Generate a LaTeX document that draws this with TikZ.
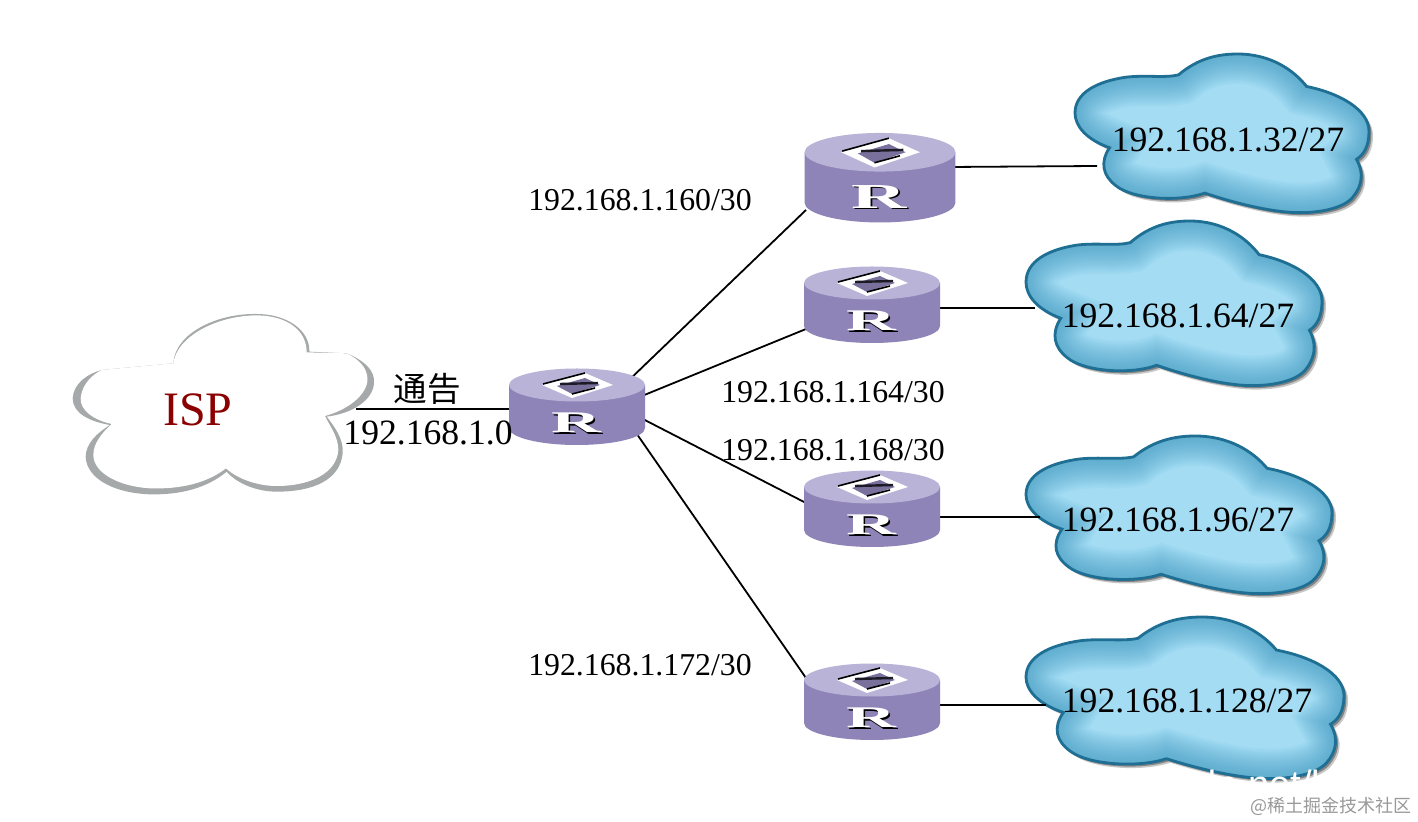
\documentclass[tikz,border=0pt]{standalone}
\usepackage{fontspec}
\setmainfont{Liberation Serif}
\newfontfamily\cjk{Noto Sans CJK SC}
\newfontfamily\wmsans{Liberation Sans}
\definecolor{cloudlight}{HTML}{A3DCF3}
\definecolor{cloudglow}{HTML}{2F8FBA}
\definecolor{cloudedge}{HTML}{1F6F94}
\definecolor{rtop}{HTML}{B9B3D7}
\definecolor{rside}{HTML}{8E84B8}
\definecolor{ispgray}{HTML}{A6A9A9}
\definecolor{ispred}{HTML}{8B0000}
\tikzset{
  link/.style={draw=black,line width=0.9pt},
  anchorbox/.style={inner sep=0pt,outer sep=0pt},
  lbl/.style={inner sep=0pt,font=\fontsize{15.9pt}{18pt}\selectfont,text=black},
  cloudlbl/.style={inner sep=0pt,font=\fontsize{17.8pt}{20pt}\selectfont,text=black},
}
\def\cloudpath{(315,63) .. controls (375,13) and (435,0) .. (495,0)
 .. controls (595,0) and (665,48) .. (705,98)
 .. controls (805,118) and (895,168) .. (895,233)
 .. controls (895,278) and (880,303) .. (857,318)
 .. controls (880,358) and (875,398) .. (845,433)
 .. controls (815,468) and (735,483) .. (655,478)
 .. controls (585,473) and (495,453) .. (395,420)
 .. controls (315,448) and (175,438) .. (125,398)
 .. controls (85,368) and (75,328) .. (105,283)
 .. controls (35,258) and (0,218) .. (0,178)
 .. controls (0,118) and (65,83) .. (155,70)
 .. controls (215,63) and (275,73) .. (315,63) -- cycle}
\newcommand{\bluecloud}[4]{%
  \begin{scope}[shift={(#1+4,#2+4)},xscale=#3/895,yscale=#4/483]
    \fill[black!70,opacity=.3] \cloudpath;
  \end{scope}
  \begin{scope}[shift={(#1+2.5,#2+2.5)},xscale=#3/895,yscale=#4/483]
    \fill[black!70,opacity=.55] \cloudpath;
  \end{scope}
  \begin{scope}[shift={(#1,#2)},xscale=#3/895,yscale=#4/483]
    \begin{scope}
      \clip \cloudpath;
      \fill[cloudlight] \cloudpath;
      \foreach \w in {30,28,26,24,22,20,18,16,14,12,10,8,6,4,2}
        \draw[cloudglow,opacity=.05,line width=\w pt] \cloudpath;
    \end{scope}
    \draw[cloudedge,line width=1.4pt] \cloudpath;
  \end{scope}}
\newcommand{\routerart}[5]{%
  \begin{scope}[shift={(#2,#3)},xscale=#4,yscale=#5]
    \fill[rside] (-68,-22) -- (-68,21) .. controls (-68,30.5) and (-37.5,38) .. (0,38) .. controls (37.5,38) and (68,30.5) .. (68,21) -- (68,-22) -- cycle;
    \fill[rtop] (0,-22) ellipse[x radius=68,y radius=16.5];
    \fill[white] (-35,-22) -- (8,-34) -- (36,-22) -- (-5,-9) -- cycle;
    \fill[rside!85!black] (-20,-21) -- (8,-29) -- (23,-22) -- (-5,-13) -- cycle;
    \draw[black!80!rside,line width=1.2pt] (-17,-23) -- (21,-24);
    \draw[black,line width=.8pt] (-34,-23) -- (8,-34);
    \draw[black,line width=.8pt] (-5,-13) -- (18,-19);
    \node[inner sep=0pt,text=black,xscale=2.3*#4,yscale=#5,font=\fontsize{15pt}{15pt}\selectfont\bfseries] (#1S) at (0.5,17.5) {R};
    \node[inner sep=0pt,text=white,xscale=2.3*#4,yscale=#5,font=\fontsize{15pt}{15pt}\selectfont\bfseries] (#1R) at (-1,16) {R};
  \end{scope}}
\begin{document}
\begin{tikzpicture}[x=0.5pt,y=-0.5pt]
\useasboundingbox (0,0) rectangle (1418,822);
\fill[white] (0,0) rectangle (1418,822);

% ISP cloud
\begin{scope}[shift={(60,300)},scale=1/3]
  \fill[ispgray] (340,190) .. controls (345,100) and (470,40) .. (590,42)
    .. controls (680,42) and (750,90) .. (748,155) -- (860,160)
    .. controls (920,185) and (945,215) .. (942,250)
    .. controls (938,300) and (880,340) .. (800,350)
    .. controls (840,400) and (850,430) .. (848,460)
    .. controls (840,540) and (760,575) .. (650,575)
    .. controls (590,575) and (530,550) .. (500,515)
    .. controls (440,565) and (360,585) .. (270,583)
    .. controls (170,580) and (80,540) .. (77,470)
    .. controls (78,430) and (110,400) .. (150,375)
    .. controls (90,365) and (38,340) .. (38,295)
    .. controls (40,250) and (85,220) .. (125,210) -- cycle;
  \fill[white] (340,190) .. controls (350,110) and (470,47) .. (590,46)
    .. controls (680,47) and (740,90) .. (740,157) -- (860,160)
    .. controls (910,185) and (925,215) .. (922,245)
    .. controls (915,290) and (860,330) .. (795,348)
    .. controls (810,380) and (835,410) .. (835,450)
    .. controls (830,520) and (750,558) .. (650,558)
    .. controls (590,558) and (530,535) .. (498,505)
    .. controls (440,550) and (360,568) .. (270,565)
    .. controls (180,560) and (100,520) .. (100,465)
    .. controls (100,430) and (125,400) .. (155,372)
    .. controls (100,360) and (60,330) .. (62,295)
    .. controls (65,255) and (95,225) .. (125,210) -- cycle;
\end{scope}

% Blue clouds
\bluecloud{1075}{54}{294}{160}
\bluecloud{1026}{221}{296}{166}
\bluecloud{1026}{436}{306}{159}
\bluecloud{1026}{617}{318}{163}

% Anchor nodes
\node[anchorbox,minimum width=68pt,minimum height=38pt] (r0) at (577,407) {};
\node[anchorbox,minimum width=75.5pt,minimum height=44.5pt] (r1) at (880,178) {};
\node[anchorbox,minimum width=68pt,minimum height=38pt] (r2) at (872,305) {};
\node[anchorbox,minimum width=68pt,minimum height=38pt] (r3) at (872,509) {};
\node[anchorbox,minimum width=68pt,minimum height=38pt] (r4) at (872,702) {};
\node[inner sep=0pt,font=\fontsize{24pt}{26pt}\selectfont,text=ispred] (isp) at (198,410) {ISP};
\node[cloudlbl] (c1) at (1228,140) {192.168.1.32/27};
\node[cloudlbl] (c2) at (1178,316) {192.168.1.64/27};
\node[cloudlbl] (c3) at (1178,520) {192.168.1.96/27};
\node[cloudlbl] (c4) at (1187,701) {192.168.1.128/27};

% Connectors
\draw[link] ([shift={(158,-1)}]isp.center) -- ([shift={(-60,2)}]r0.center);
\draw[link] ([shift={(50,-25)}]r0.center) -- ([shift={(-74,32)}]r1.center);
\draw[link] ([shift={(60,-9)}]r0.center) -- ([shift={(-66,24)}]r2.center);
\draw[link] ([shift={(60,9)}]r0.center) -- ([shift={(-66,-6)}]r3.center);
\draw[link] ([shift={(55,20)}]r0.center) -- ([shift={(-66,-24)}]r4.center);
\draw[link] ([shift={(70,-11)}]r1.center) -- ([shift={(-131,26)}]c1.center);
\draw[link] ([shift={(61,3)}]r2.center) -- ([shift={(-143,-8)}]c2.center);
\draw[link] ([shift={(60,8)}]r3.center) -- ([shift={(-138,-3)}]c3.center);
\draw[link] ([shift={(61,3)}]r4.center) -- ([shift={(-141,4)}]c4.center);

% Routers
\routerart{r0}{577}{407}{1}{1}
\routerart{r1}{880}{178}{1.11}{1.17}
\routerart{r2}{872}{305}{1}{1}
\routerart{r3}{872}{509}{1}{1}
\routerart{r4}{872}{702}{1}{1}

% Labels
\node[lbl] (l160) at (640,200) {192.168.1.160/30};
\node[lbl] (l164) at (833,392) {192.168.1.164/30};
\node[lbl] (l168) at (833,450) {192.168.1.168/30};
\node[lbl] (l172) at (640,665) {192.168.1.172/30};
\node[inner sep=0pt,font=\cjk\fontsize{16.8pt}{18pt}\selectfont] (adv) at (427,389) {通告};
\node[cloudlbl] (net) at (428,433) {192.168.1.0};

% Watermarks
\node[inner sep=0pt,text=white,font=\wmsans\fontsize{19pt}{20pt}\selectfont,anchor=west] (wm1) at (1195,784) {dn.net/l};
\node[inner sep=0pt,text=black!40,font=\cjk\fontsize{9pt}{10pt}\selectfont,anchor=east] (wm2) at (1412,806) {@稀土掘金技术社区};
\end{tikzpicture}
\end{document}
